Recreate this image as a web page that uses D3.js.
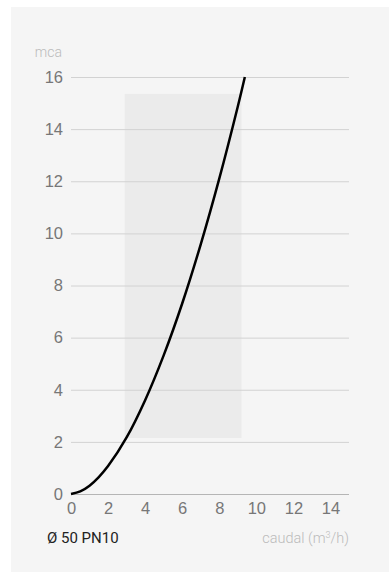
<!DOCTYPE html>
<html><head><meta charset="utf-8">
<script src="https://cdn.jsdelivr.net/npm/d3@7"></script>
<style>html,body{margin:0;padding:0;background:#fff;}svg{display:block;font-family:Roboto,"Liberation Sans",sans-serif;}</style>
</head><body>
<svg id="c" width="389" height="573"></svg>
<script>
const flow = [0, 0.5, 1, 1.5, 2, 3, 4, 5, 6, 7, 8, 9, 9.38];
const head = [0, 0.1, 0.32, 0.65, 1.07, 2.17, 3.6, 5.32, 7.31, 9.58, 12.1, 14.87, 16];
const xTicks = [0, 2, 4, 6, 8, 10, 12, 14];
const yTicks = [0, 2, 4, 6, 8, 10, 12, 14, 16];
const zoneFlow = [2.9, 9.2];
const zoneHead = [2.15, 15.35];
const title = "Ø 50 PN10";
const yLabel = "mca";

const svg = d3.select("#c");
svg.append("rect").attr("x", 11).attr("y", 7).attr("width", 378).attr("height", 565).attr("fill", "#f5f5f5");

const x = d3.scaleLinear().domain([0, 15]).range([71, 349]);
const y = d3.scaleLinear().domain([0, 16]).range([494, 77]);

svg.append("rect")
  .attr("x", x(zoneFlow[0])).attr("y", y(zoneHead[1]))
  .attr("width", x(zoneFlow[1]) - x(zoneFlow[0]))
  .attr("height", y(zoneHead[0]) - y(zoneHead[1]))
  .attr("fill", "#ebebeb");

const gy = svg.append("g").attr("transform", "translate(71,0)")
  .call(d3.axisLeft(y).tickValues(yTicks).tickSize(-278).tickPadding(8).tickFormat(d3.format("d")));
gy.select(".domain").remove();
gy.selectAll(".tick line").attr("stroke", d => d === 0 ? "#b5b5b5" : "#d2d2d2");
gy.selectAll(".tick text").attr("fill", "#777").attr("font-size", 16.5).attr("font-weight", 300);

const gx = svg.append("g").attr("transform", "translate(0,494)")
  .call(d3.axisBottom(x).tickValues(xTicks).tickSize(0).tickPadding(8).tickFormat(d3.format("d")));
gx.select(".domain").remove();
gx.selectAll(".tick text").attr("fill", "#777").attr("font-size", 16.5).attr("font-weight", 300);

const line = d3.line().x((d, i) => x(flow[i])).y((d, i) => y(head[i])).curve(d3.curveCatmullRom);
svg.append("path").datum(head).attr("d", line).attr("fill", "none").attr("stroke", "#000").attr("stroke-width", 2.5);

svg.append("text").attr("x", 62).attr("y", 57).attr("text-anchor", "end")
  .attr("fill", "#bbb").attr("font-size", 14).attr("font-weight", 300).text(yLabel);

const cap = svg.append("text").attr("x", 349).attr("y", 543).attr("text-anchor", "end")
  .attr("fill", "#bbb").attr("font-size", 14.5).attr("font-weight", 300);
cap.append("tspan").text("caudal (m");
cap.append("tspan").attr("font-size", 9).attr("dy", -5).text("3");
cap.append("tspan").attr("dy", 5).text("/h)");

svg.append("text").attr("x", 47).attr("y", 543)
  .attr("fill", "#222").attr("font-size", 15).attr("font-weight", 400).text(title);
</script>
</body></html>
